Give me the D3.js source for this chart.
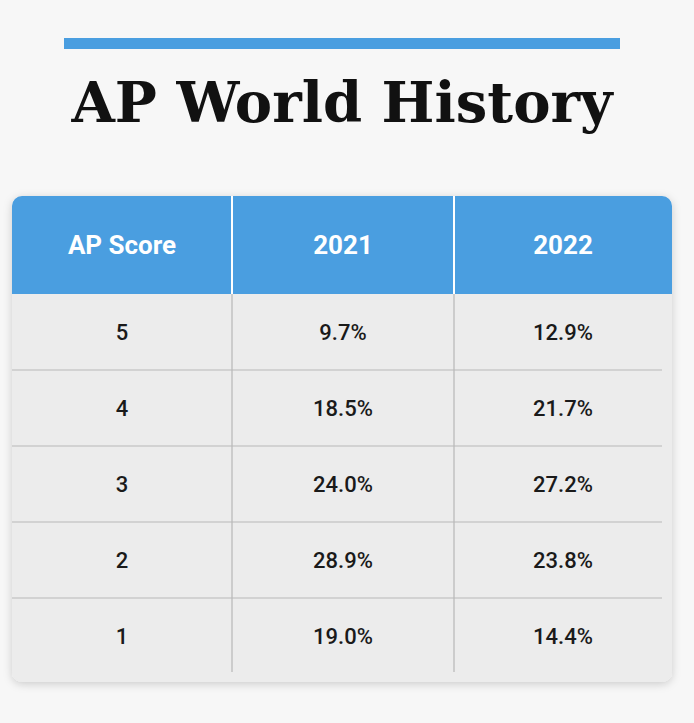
<!DOCTYPE html>
<html><head><meta charset="utf-8">
<script src="https://cdn.jsdelivr.net/npm/d3@7"></script>
<style>body{margin:0;background:#f6f6f6;}</style>
</head><body>
<svg id="chart"></svg>
<script>
const width = 694, height = 723;
const headers = ["AP Score", "2021", "2022"];
const scores = ["5", "4", "3", "2", "1"];
const pct2021 = ["9.7%", "18.5%", "24.0%", "28.9%", "19.0%"];
const pct2022 = ["12.9%", "21.7%", "27.2%", "23.8%", "14.4%"];

const svg = d3.select("#chart").attr("width", width).attr("height", height);

const defs = svg.append("defs");
const f = defs.append("filter").attr("id", "sh").attr("x", "-5%").attr("y", "-5%").attr("width", "110%").attr("height", "110%");
f.append("feDropShadow").attr("dx", 0).attr("dy", 2).attr("stdDeviation", 4).attr("flood-color", "#000").attr("flood-opacity", 0.18);
const clip = defs.append("clipPath").attr("id", "tc");
clip.append("rect").attr("x", 12).attr("y", 196).attr("width", 660).attr("height", 486).attr("rx", 10);

svg.append("rect").attr("width", width).attr("height", height).attr("fill", "#f7f7f7");

// title
svg.append("rect").attr("x", 64).attr("y", 38).attr("width", 556).attr("height", 11).attr("fill", "#4a9ee0");
svg.append("text").attr("x", 342).attr("y", 122).attr("text-anchor", "middle")
  .attr("font-family", "DejaVu Serif").attr("font-weight", "bold").attr("font-size", 56)
  .attr("fill", "#111").text("AP World History");

const cols = [12, 232, 454, 672];
const x = d3.scaleOrdinal().domain(headers).range([122, 343, 563]);
const y = d3.scaleBand().domain(scores).range([294, 674]);

const t = svg.append("g").attr("clip-path", "url(#tc)");
svg.insert("rect", "g").attr("x", 12).attr("y", 196).attr("width", 660).attr("height", 486).attr("rx", 10)
  .attr("fill", "#ececec").attr("filter", "url(#sh)");
t.append("rect").attr("x", 12).attr("y", 196).attr("width", 660).attr("height", 98).attr("fill", "#4a9ee0");

// grid
t.selectAll(".h").data(scores.slice(1)).enter().append("line")
  .attr("x1", 12).attr("x2", 662).attr("y1", d => y(d)).attr("y2", d => y(d))
  .attr("stroke", "#b8b8b8").attr("stroke-width", 1.2);
t.selectAll(".v").data(cols.slice(1, 3)).enter().append("line")
  .attr("x1", d => d).attr("x2", d => d).attr("y1", 196).attr("y2", 294)
  .attr("stroke", "#ffffff").attr("stroke-width", 2);
t.selectAll(".vb").data(cols.slice(1, 3)).enter().append("line")
  .attr("x1", d => d).attr("x2", d => d).attr("y1", 294).attr("y2", 672)
  .attr("stroke", "#b8b8b8").attr("stroke-width", 1.2);

svg.selectAll(".hd").data(headers).enter().append("text")
  .attr("x", d => x(d)).attr("y", 254).attr("text-anchor", "middle")
  .attr("font-family", "Roboto").attr("font-weight", "bold").attr("font-size", 26)
  .attr("fill", "#fff").text(d => d);

const rows = scores.map((s, i) => [s, pct2021[i], pct2022[i]]);
rows.forEach(r => {
  svg.selectAll(null).data(r).enter().append("text")
    .attr("x", (d, j) => x(headers[j])).attr("y", y(r[0]) + y.bandwidth() / 2 + 8)
    .attr("text-anchor", "middle").attr("font-family", "Roboto").attr("font-weight", 500)
    .attr("font-size", 22).attr("fill", "#1a1a1a").text(d => d);
});
</script>
</body></html>
